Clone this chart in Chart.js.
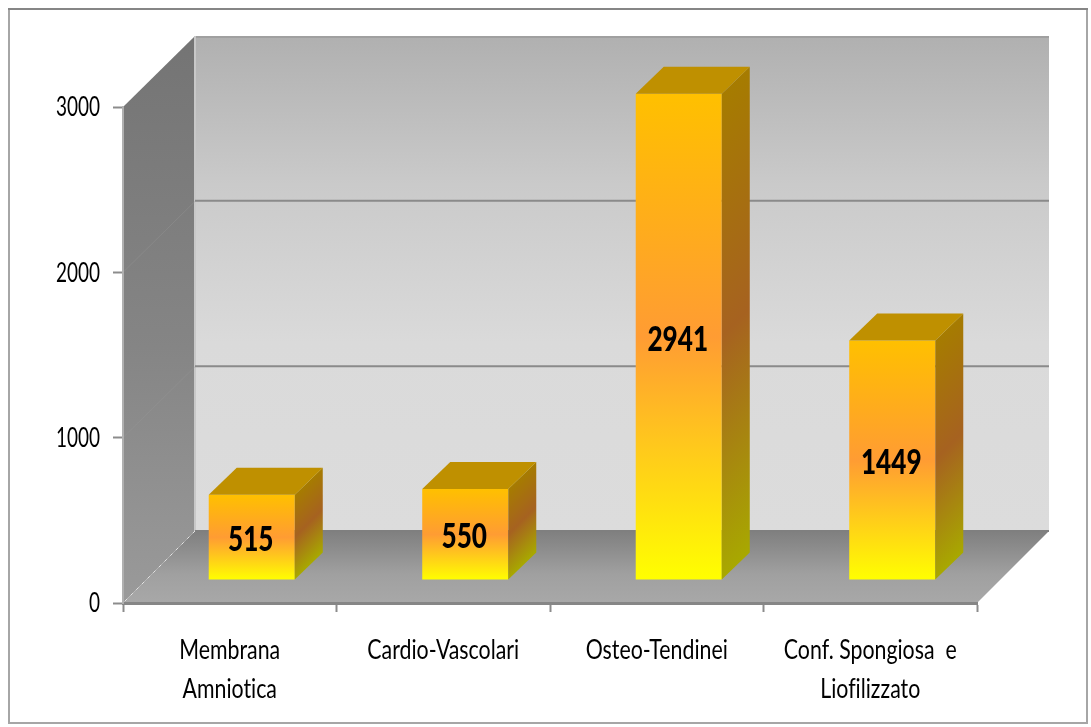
<!DOCTYPE html>
<html>
<head>
<meta charset="utf-8">
<script src="https://cdn.jsdelivr.net/npm/chart.js@4"></script>
<style>
    html, body { margin: 0; padding: 0; background: #fff; }
    canvas { display: block; }
</style>
</head>
<body>
<canvas id="grafico" width="1091" height="727"></canvas>
<script>
const categorie = [
    ['Membrana', 'Amniotica'],
    ['Cardio-Vascolari'],
    ['Osteo-Tendinei'],
    ['Conf. Spongiosa  e', 'Liofilizzato']
];
const valori = [515, 550, 2941, 1449];
const tickValori = [0, 1000, 2000, 3000];

const font = "Lato, 'Liberation Sans', sans-serif";

// profondita' delle pareti e delle barre
const muroDx = 72, muroDy = 71;
const barraDx = 22, barraDy = -23;
const latoDx = 28, latoDy = -27;

function poligono(ctx, punti, fill) {
    ctx.beginPath();
    punti.forEach((p, i) => i ? ctx.lineTo(p[0], p[1]) : ctx.moveTo(p[0], p[1]));
    ctx.closePath();
    ctx.fillStyle = fill;
    ctx.fill();
}

function gradiente(ctx, x0, y0, x1, y1, stops) {
    const g = ctx.createLinearGradient(x0, y0, x1, y1);
    stops.forEach(s => g.addColorStop(s[0], s[1]));
    return g;
}

// il testo originale e' un calibri schiacciato in orizzontale
function testoStretto(ctx, testo, x, y, fontCss, stretto, align) {
    ctx.save();
    ctx.translate(x, y);
    ctx.scale(stretto, 1);
    ctx.font = fontCss;
    ctx.textRendering = 'optimizeSpeed';
    ctx.fillStyle = '#000';
    ctx.textAlign = align;
    ctx.textBaseline = 'middle';
    ctx.fillText(testo, 0, 0);
    ctx.restore();
}

const pareti = {
    id: 'pareti',
    beforeDraw(chart) {
        const { ctx, chartArea: a, scales } = chart;
        const y = scales.y;
        ctx.save();

        // cornice esterna
        ctx.strokeStyle = '#a6a6a6';
        ctx.lineWidth = 2;
        ctx.strokeRect(9, 9, 1078, 714);
        ctx.strokeStyle = '#868686';
        ctx.beginPath(); ctx.moveTo(8, 9); ctx.lineTo(1088, 9); ctx.stroke();

        const fondoL = a.left + muroDx, fondoR = a.right + muroDx;
        const fondoT = a.top - muroDy, fondoB = a.bottom - muroDy - 1;

        // parete di fondo
        ctx.fillStyle = gradiente(ctx, 0, fondoT, 0, fondoB, [[0, '#b0b0b0'], [0.3, '#cacaca'], [0.62, '#dadada'], [1, '#dcdcdc']]);
        ctx.fillRect(fondoL, fondoT, fondoR - fondoL, fondoB - fondoT);
        ctx.fillStyle = '#a0a0a0';
        ctx.fillRect(fondoL, fondoT, fondoR - fondoL, 2);

        // parete sinistra
        poligono(ctx, [[a.left, a.top], [fondoL, fondoT], [fondoL, fondoB], [a.left, a.bottom]],
            gradiente(ctx, 0, fondoT, 0, a.bottom, [[0, '#747474'], [0.55, '#858585'], [1, '#9a9a9a']]));
        ctx.fillStyle = '#c8c8c8';
        ctx.fillRect(fondoL - 1, fondoT, 2, fondoB - fondoT);

        // pavimento
        poligono(ctx, [[a.left, a.bottom], [fondoL, fondoB], [fondoR, fondoB], [a.right, a.bottom]],
            gradiente(ctx, 0, fondoB, 0, a.bottom, [[0, '#7f7f7f'], [0.6, '#a0a0a0'], [1, '#a8a8a8']]));

        // griglia
        ctx.lineWidth = 2;
        tickValori.slice(1, 3).forEach(v => {
            const py = y.getPixelForValue(v);
            ctx.strokeStyle = '#8a8a8a';
            ctx.beginPath();
            ctx.moveTo(fondoL, py - muroDy - 0.5);
            ctx.lineTo(fondoR, py - muroDy - 0.5);
            ctx.stroke();
            ctx.strokeStyle = 'rgba(150,150,150,0.4)';
            ctx.lineWidth = 1;
            ctx.beginPath();
            ctx.moveTo(a.left, py);
            ctx.lineTo(fondoL, py - muroDy);
            ctx.stroke();
            ctx.lineWidth = 2;
        });
        ctx.strokeStyle = '#7f7f7f';
        ctx.beginPath();
        ctx.moveTo(fondoL, fondoB);
        ctx.lineTo(fondoR, fondoB);
        ctx.stroke();

        // spigolo chiaro tra parete e pavimento
        ctx.strokeStyle = '#e4e4e4';
        ctx.lineWidth = 1;
        ctx.setLineDash([3, 5]);
        ctx.beginPath();
        ctx.moveTo(a.left + 2, a.bottom - 2);
        ctx.lineTo(fondoL, fondoB);
        ctx.stroke();
        ctx.setLineDash([]);

        ctx.restore();
    },
    beforeDatasetDraw(chart) {
        chart.ctx.save();
        chart.ctx.translate(barraDx, barraDy);
    },
    afterDatasetDraw(chart, args) {
        const ctx = chart.ctx;
        args.meta.data.forEach((bar, i) => {
            const { x, y, base, width } = bar.getProps(['x', 'y', 'base', 'width']);
            const l = x - width / 2, r = x + width / 2, h = base - y;

            // lato destro e faccia superiore
            poligono(ctx, [[r, y], [r + latoDx, y + latoDy], [r + latoDx, base + latoDy], [r, base]],
                gradiente(ctx, r, y, r + h / 2, y + h / 2, [[0, '#a67c00'], [0.5, '#a66220'], [1, '#a8a800']]));
            poligono(ctx, [[l, y], [l + latoDx, y + latoDy], [r + latoDx, y + latoDy], [r, y]], '#bf9000');

            testoStretto(ctx, String(valori[i]), x - 1, (y + base) / 2 + 3, '900 34px ' + font, 0.77, 'center');
        });
        ctx.restore();
    },
    afterDraw(chart) {
        const { ctx, scales } = chart;
        scales.y.ticks.forEach(t => {
            testoStretto(ctx, String(t.value), 100, scales.y.getPixelForValue(t.value) + 1, '26px ' + font, 0.73, 'right');
        });
        categorie.forEach((righe, i) => {
            righe.forEach((riga, j) => {
                testoStretto(ctx, riga, scales.x.getPixelForTick(i), 651 + j * 39, '26px ' + font, 0.82, 'center');
            });
        });
    }
};

new Chart(document.getElementById('grafico'), {
    type: 'bar',
    data: {
        labels: categorie,
        datasets: [{
            data: valori,
            categoryPercentage: 1,
            barPercentage: 0.403,
            borderWidth: 0,
            backgroundColor(context) {
                const chart = context.chart;
                if (!chart.chartArea || context.parsed == undefined) return '#ffc000';
                const y = chart.scales.y;
                return gradiente(chart.ctx, 0, y.getPixelForValue(context.parsed.y), 0, y.getPixelForValue(0),
                    [[0, '#ffc000'], [0.5, '#ff9c33'], [1, '#ffff00']]);
            }
        }]
    },
    options: {
        responsive: false,
        animation: false,
        layout: { padding: { left: 0, right: 114, top: 107, bottom: 0 } },
        plugins: { legend: { display: false }, tooltip: { enabled: false } },
        scales: {
            x: {
                afterFit(scale) { scale.height = 124; },
                border: { color: '#868686', width: 3 },
                grid: { drawOnChartArea: false, drawTicks: true, tickLength: 9, tickColor: '#8c8c8c', tickWidth: 2 },
                ticks: { display: false }
            },
            y: {
                min: 0,
                max: 3000,
                afterFit(scale) { scale.width = 123; },
                afterBuildTicks(scale) { scale.ticks = tickValori.map(v => ({ value: v })); },
                border: { color: '#b0b0b0', width: 2 },
                grid: { drawOnChartArea: false, drawTicks: true, tickLength: 10, tickColor: '#8c8c8c', tickWidth: 2 },
                ticks: { display: false }
            }
        }
    },
    plugins: [pareti]
});
</script>
</body>
</html>
